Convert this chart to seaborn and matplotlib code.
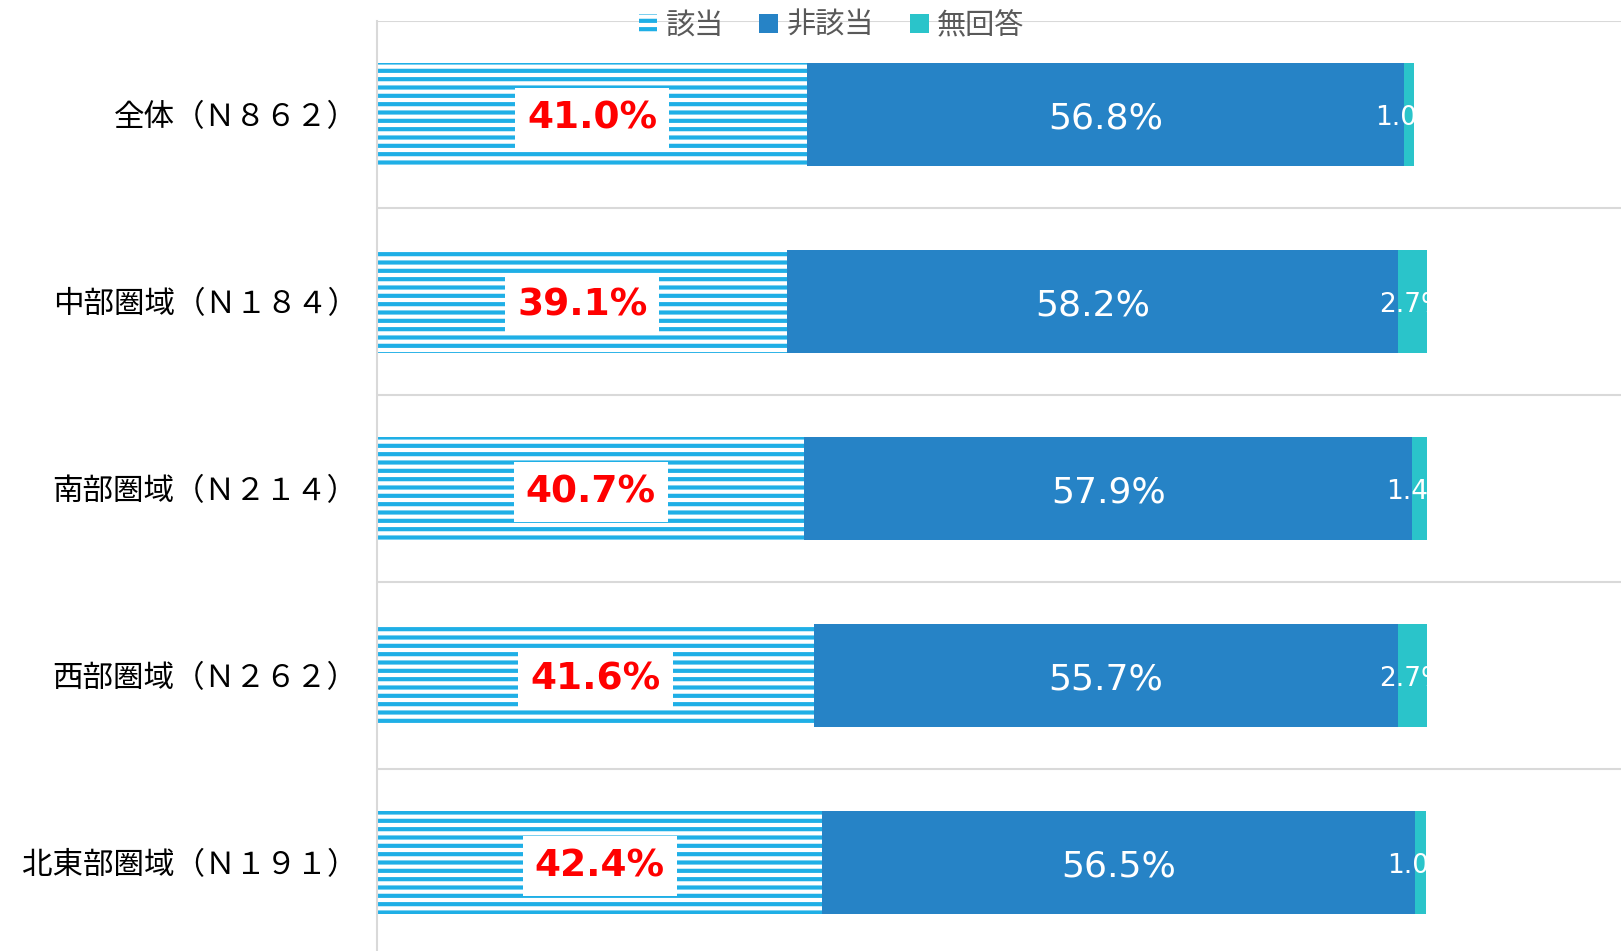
import pandas as pd
import seaborn as sns
import matplotlib.pyplot as plt
from matplotlib.patches import Patch

# data (percent)
regions = ['全体（Ｎ８６２）', '中部圏域（Ｎ１８４）', '南部圏域（Ｎ２１４）',
           '西部圏域（Ｎ２６２）', '北東部圏域（Ｎ１９１）']
gaitou = [41.0, 39.1, 40.7, 41.6, 42.4]
higaitou = [56.8, 58.2, 57.9, 55.7, 56.5]
mukaitou = [1.0, 2.7, 1.4, 2.7, 1.0]
series_names = ['該当', '非該当', '無回答']

light_blue = '#1FAFE6'
dark_blue = '#2683C6'
teal = '#2AC4CA'
grid_grey = '#D9D9D9'

df = pd.DataFrame({'region': regions, 'gaitou': gaitou,
                   'higaitou': higaitou, 'mukaitou': mukaitou})
df['cum2'] = df['gaitou'] + df['higaitou']
df['cum3'] = df['cum2'] + df['mukaitou']

sns.set_style('white')
plt.rcParams['font.family'] = ['Noto Sans CJK JP', 'DejaVu Sans']
plt.rcParams['hatch.linewidth'] = 3.0

fig = plt.figure(figsize=(16.21, 9.51), dpi=100)
ax = fig.add_axes([0.2326, -0.0053, 0.7674, 0.9832])

# stacked bars drawn as overlapping cumulative totals
sns.barplot(data=df, x='cum3', y='region', orient='h', color=teal,
            saturation=1, width=0.55, linewidth=0, ax=ax)
teal_bars = list(ax.patches)
sns.barplot(data=df, x='cum2', y='region', orient='h', color=dark_blue,
            saturation=1, width=0.55, linewidth=0, ax=ax)
sns.barplot(data=df, x='gaitou', y='region', orient='h', color='white',
            saturation=1, width=0.55, linewidth=0, hatch='--',
            edgecolor=light_blue, ax=ax)

ax.set_xlim(0, 118.5)
ax.set_ylim(len(regions) - 0.5, -0.5)
ax.set_xticks([])
ax.set_xlabel('')
ax.set_ylabel('')
ax.tick_params(axis='y', length=0, pad=14, labelsize=22, labelcolor='black')

for s in ['top', 'right', 'bottom']:
    ax.spines[s].set_visible(False)
ax.spines['left'].set_color(grid_grey)
ax.spines['left'].set_linewidth(1.5)
for i in range(len(regions)):
    ax.axhline(i - 0.5, color=grid_grey, lw=1.5, zorder=0)

num_font = ['DejaVu Sans']
for i, row in df.iterrows():
    yy = i + 0.02
    ax.text(row['gaitou'] / 2, yy, f"{row['gaitou']:.1f}%", ha='center', va='center',
            color='red', fontsize=27, fontweight='bold', family=num_font,
            bbox=dict(boxstyle='square,pad=0.32', facecolor='white', edgecolor='none'))
    ax.text(row['gaitou'] + row['higaitou'] / 2, yy, f"{row['higaitou']:.1f}%",
            ha='center', va='center', color='white', fontsize=26, family=num_font)
    t = ax.text(row['cum2'] + row['mukaitou'] / 2, yy, f"{row['mukaitou']:.1f}%",
                ha='center', va='center', color='white', fontsize=19, family=num_font)
    t.set_clip_path(teal_bars[i])

handles = [
    Patch(facecolor='white', edgecolor=light_blue, hatch='--', linewidth=0),
    Patch(facecolor=dark_blue, linewidth=0),
    Patch(facecolor=teal, linewidth=0),
]
fig.legend(handles, series_names, loc='center', bbox_to_anchor=(0.513, 1 - 26 / 951),
           ncol=3, frameon=False, fontsize=21, labelcolor='#595959',
           handlelength=0.65, handleheight=0.65, handletextpad=0.3, columnspacing=1.2)

fig.savefig('out.png', dpi=100)
